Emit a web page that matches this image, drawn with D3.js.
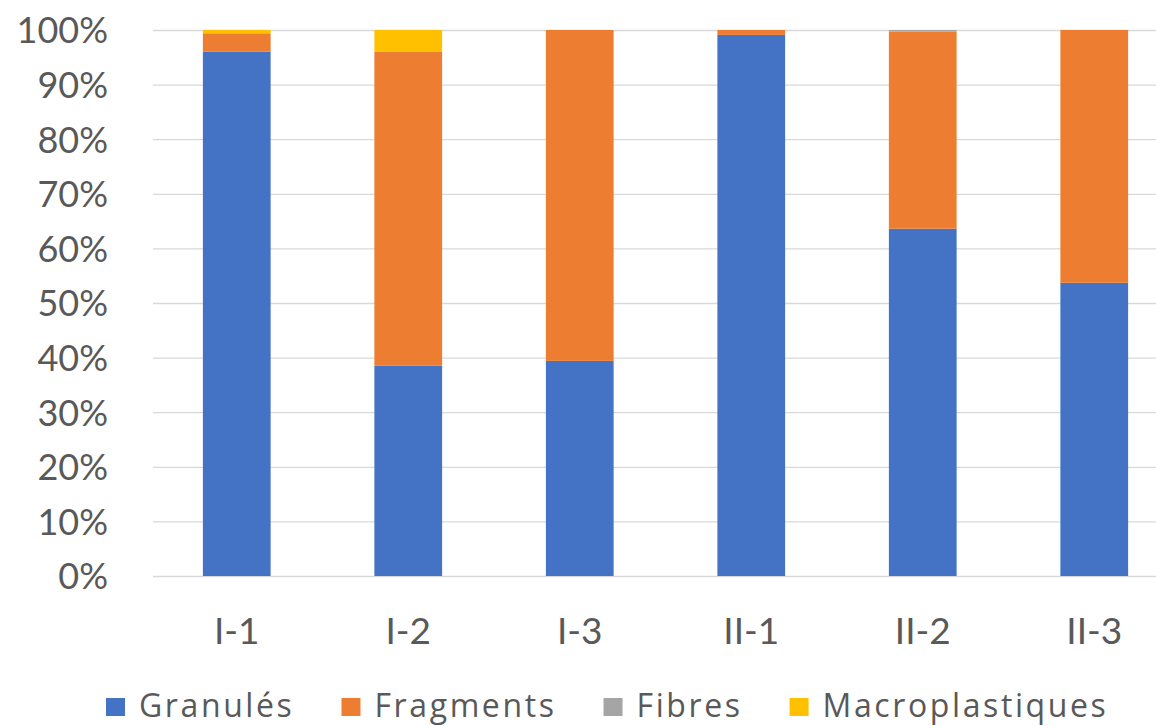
<!DOCTYPE html>
<html><head><meta charset="utf-8">
<script src="https://cdn.jsdelivr.net/npm/d3@7"></script>
<style>html,body{margin:0;padding:0;background:#fff;overflow:hidden}svg{display:block}</style>
</head><body>
<svg id="chart" width="1156" height="726"></svg>
<script>
const categories = ["I-1","I-2","I-3","II-1","II-2","II-3"];
const seriesNames = ["Granulés","Fragments","Fibres","Macroplastiques"];
const granules = [96.0, 38.5, 39.4, 99.1, 63.6, 53.7];
const fragments = [3.4, 57.5, 60.6, 0.9, 36.1, 46.3];
const fibres = [0, 0, 0, 0, 0.3, 0];
const macroplastiques = [0.6, 4.0, 0, 0, 0, 0];
const colors = ["#4472C4","#ED7D31","#A5A5A5","#FFC000"];
const yTicks = [0,10,20,30,40,50,60,70,80,90,100];

(function(){
const font = "Lato, 'Open Sans', sans-serif";
const legFont = "'Open Sans', Lato, sans-serif";
const textColor = "#595959";
const svg = d3.select("#chart");
const W = 1156, H = 726;
const mLeft = 151, mRight = 1180, mTop = 30, mBottom = 576;

const rows = categories.map((c,i)=>({cat:c, "Granulés":granules[i], "Fragments":fragments[i], "Fibres":fibres[i], "Macroplastiques":macroplastiques[i]}));
const stacked = d3.stack().keys(seriesNames)(rows);

const x = d3.scaleBand().domain(categories).range([mLeft,mRight]).paddingInner(0.605).paddingOuter(0.3025);
const y = d3.scaleLinear().domain([0,100]).range([mBottom,mTop]);

const yAxis = d3.axisLeft(y).tickValues(yTicks).tickFormat(d=>d+"%").tickSize(-(W-153+10)).tickPadding(45);
const gy = svg.append("g").attr("transform",`translate(153,0)`).call(yAxis);
gy.select(".domain").remove();
gy.selectAll(".tick line").attr("stroke","#D9D9D9").attr("stroke-width",1.3);
gy.selectAll(".tick text").attr("fill",textColor).style("font-family",font).style("font-size","36px").attr("dy","0.36em");

svg.append("g").selectAll("g").data(stacked).join("g")
  .attr("fill",(d,i)=>colors[i])
  .selectAll("rect").data(d=>d).join("rect")
  .attr("x",d=>x(d.data.cat))
  .attr("width",x.bandwidth())
  .attr("y",d=>y(d[1]))
  .attr("height",d=>Math.max(0,y(d[0])-y(d[1])));

const xAxis = d3.axisBottom(x).tickSize(0).tickPadding(42);
const gx = svg.append("g").attr("transform",`translate(0,${mBottom})`).call(xAxis);
gx.select(".domain").remove();
gx.selectAll(".tick text").attr("fill",textColor).style("font-family",font).style("font-size","37px");

const leg = svg.append("g");
const items = seriesNames.map((n,i)=>({n,c:colors[i]}));
let cx = 0;
const legY = 707;
leg.selectAll("g").data(items).join("g").each(function(d){
  const g = d3.select(this);
  g.append("rect").attr("x",0).attr("y",legY-9).attr("width",19).attr("height",18).attr("fill",d.c);
  const t = g.append("text").attr("x",33).attr("y",legY+10).attr("fill",textColor)
    .style("font-family",legFont).style("font-size","32px").style("letter-spacing","2.6px").text(d.n);
  const w = t.node().getComputedTextLength();
  g.attr("transform",`translate(${cx},0)`);
  cx += 33 + w + 47;
});
leg.attr("transform",`translate(106,0)`);
})();
</script>
</body></html>
